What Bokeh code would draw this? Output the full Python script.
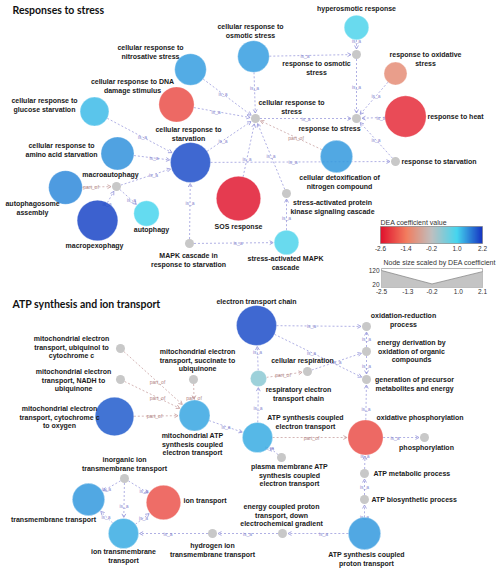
import numpy as np
from bokeh.plotting import figure
from bokeh.models import (Range1d, ColumnDataSource, ColorBar,
                          LinearColorMapper, FixedTicker, PrintfTickFormatter)
from bokeh.transform import linear_cmap
from bokeh.core.properties import value
from bokeh.embed import file_html
from bokeh.resources import INLINE

# ---------------- DATA ----------------
section_titles = ["Responses to stress", "ATP synthesis and ion transport"]

node_names = [
    "cellular response to\nnitrosative stress",
    "cellular response to DNA\ndamage stimulus",
    "cellular response to\nglucose starvation",
    "cellular response to\nosmotic stress",
    "hyperosmotic response",
    "response to osmotic\nstress",
    "response to oxidative\nstress",
    "response to stress",
    "cellular response to\nstress",
    "response to heat",
    "cellular response to\nstarvation",
    "cellular response to\namino acid starvation",
    "macroautophagy",
    "autophagosome\nassembly",
    "macropexophagy",
    "autophagy",
    "SOS response",
    "cellular detoxification of\nnitrogen compound",
    "response to starvation",
    "stress-activated protein\nkinase signaling cascade",
    "stress-activated MAPK\ncascade",
    "MAPK cascade in\nresponse to starvation",
    "mitochondrial electron\ntransport, ubiquinol to\ncytochrome c",
    "mitochondrial electron\ntransport, NADH to\nubiquinone",
    "mitochondrial electron\ntransport, cytochrome c\nto oxygen",
    "mitochondrial electron\ntransport, succinate to\nubiquinone",
    "mitochondrial ATP\nsynthesis coupled\nelectron transport",
    "electron transport chain",
    "oxidation-reduction\nprocess",
    "energy derivation by\noxidation of organic\ncompounds",
    "cellular respiration",
    "generation of precursor\nmetabolites and energy",
    "respiratory electron\ntransport chain",
    "ATP synthesis coupled\nelectron transport",
    "oxidative phosphorylation",
    "phosphorylation",
    "ATP metabolic process",
    "ATP biosynthetic process",
    "ATP synthesis coupled\nproton transport",
    "energy coupled proton\ntransport, down\nelectrochemical gradient",
    "plasma membrane ATP\nsynthesis coupled\nelectron transport",
    "hydrogen ion\ntransmembrane transport",
    "ion transmembrane\ntransport",
    "transmembrane transport",
    "ion transport",
    "inorganic ion\ntransmembrane transport",
]
# DEA coefficient (nan = not measured, grey node)
nan = float("nan")
node_coef = [
    1.40, -1.90, 1.20, 1.40, 0.90, nan, -1.10, nan, nan, -2.30,
    2.00, 1.50, nan, 1.55, 2.05, 0.95, -2.50, 1.45, nan, nan,
    0.90, nan,
    nan, nan, 1.90, nan, 1.35, 2.00, nan, nan, nan, nan,
    0.30, 1.30, -1.90, nan, nan, nan, 1.45, nan, nan, nan,
    1.30, 1.45, -1.85, nan,
]

edge_source = [
    0, 1, 2, 11, 12, 13, 14, 12, 10, 10, 21, 21, 20, 19, 16, 17, 8, 3, 3, 4, 5, 6, 9, 18,
    22, 23, 24, 25, 26, 40, 33, 32, 32, 30, 27, 27, 29, 29, 34, 33, 34, 36, 37, 38, 38,
    39, 41, 45, 45, 45, 42, 42,
]
edge_target = [
    8, 8, 10, 10, 10, 12, 12, 15, 8, 18, 10, 20, 19, 8, 8, 8, 7, 8, 5, 5, 7, 7, 7, 7,
    26, 26, 26, 26, 33, 33, 32, 27, 30, 29, 28, 31, 28, 31, 31, 34, 35, 34, 36, 37, 39,
    41, 42, 43, 44, 42, 43, 44,
]
edge_type = [
    "is_a", "is_a", "is_a", "is_a", "is_a", "part_of", "is_a", "is_a", "is_a", "is_a",
    "is_a", "is_a", "is_a", "is_a", "is_a", "part_of", "is_a", "is_a", "is_a", "is_a",
    "is_a", "is_a", "is_a", "is_a",
    "part_of", "part_of", "part_of", "part_of", "is_a", "is_a", "is_a", "is_a", "part_of",
    "is_a", "is_a", "is_a", "is_a", "is_a", "is_a", "part_of", "is_a", "is_a", "is_a",
    "is_a", "is_a", "is_a", "is_a", "is_a", "is_a", "is_a", "is_a", "is_a",
]

colorbar_ticks = [-2.6, -1.4, -0.2, 1.0, 2.2]
colorbar_colors = ["#E0112D", "#F27C5E", "#BFBFBF", "#45D6EF", "#1533C2"]
size_legend_x = [-2.5, -0.2, 2.1]
size_legend_y = [120, 25, 112]
size_ticks_x = [-2.5, -1.3, -0.2, 1.0, 2.1]
size_ticks_y = [120, 20]

# ---------------- LAYOUT (pixel positions on the page) ----------------
# node: (x, y, label_x, label_y, align)
layout = [
    (190, 69, 150, 47, "center"), (176, 104, 132, 81, "center"), (94, 111, 44, 100, "center"),
    (253, 56, 250, 26, "center"), (356, 27, 356, 8, "center"), (356, 54, 316, 63, "center"),
    (395, 73, 425, 54, "center"), (356, 118, 329, 128, "center"), (255, 118, 291, 102, "center"),
    (405, 116, 427, 116, "left"), (190, 162, 188, 129, "center"), (117, 153, 61, 145, "center"),
    (116, 186, 110, 174, "center"), (65, 187, 32, 203, "center"), (97, 220, 94, 245, "center"),
    (146, 213, 151, 229, "center"), (238, 198, 238, 226, "center"), (336, 156, 339, 177, "center"),
    (395, 161, 401, 161, "left"), (286, 193, 332, 202, "center"), (286, 242, 285, 258, "center"),
    (189, 243, 188, 255, "center"),
    (120, 348, 71, 338, "center"), (120, 379, 73, 371, "center"), (114, 416, 59, 408, "center"),
    (193, 379, 197, 351, "center"), (194, 415, 192, 435, "center"), (256, 325, 256, 301, "center"),
    (366, 326, 403, 315, "center"), (366, 351, 411, 342, "center"), (307, 371, 302, 360, "center"),
    (366, 379, 414, 379, "center"), (258, 378, 298, 389, "center"), (257, 437, 305, 417, "center"),
    (365, 437, 376, 417, "left"), (424, 437, 426, 447, "center"), (364, 473, 373, 473, "left"),
    (364, 499, 371, 499, "left"), (364, 533, 366, 554, "center"), (282, 533, 281, 506, "center"),
    (281, 457, 289, 466, "center"), (212, 533, 212, 545, "center"), (123, 533, 123, 551, "center"),
    (88, 499, 53, 519, "center"), (163, 502, 183, 500, "left"), (124, 478, 124, 459, "center"),
]
title_pos = [(12, 9), (12, 303)]
LINE_H = 8.7
PX_PER_UNIT = 0.37
GREY_R = 4.5
HEAD = 4.0

W, H = 500, 572
p = figure(width=W, height=H, output_backend="svg", toolbar_location=None,
           x_range=Range1d(0, W), y_range=Range1d(H, 0),
           min_border=0, tools="")
p.xaxis.visible = False
p.yaxis.visible = False
p.grid.visible = False
p.outline_line_color = None
p.background_fill_color = "white"

# palette from the colour stops
def hex2rgb(h):
    return np.array([int(h[i:i + 2], 16) for i in (1, 3, 5)], float)
stops = np.array([hex2rgb(c) for c in colorbar_colors])
vals = np.linspace(colorbar_ticks[0], colorbar_ticks[-1], 256)
palette = []
for v in vals:
    rgb = [np.interp(v, colorbar_ticks, stops[:, k]) for k in range(3)]
    palette.append("#%02x%02x%02x" % tuple(int(round(c)) for c in rgb))

coef = np.array(node_coef, float)
xs = np.array([l[0] for l in layout], float)
ys = np.array([l[1] for l in layout], float)
measured = ~np.isnan(coef)
radius = np.where(measured,
                  0.5 * PX_PER_UNIT * np.interp(np.nan_to_num(coef), size_legend_x, size_legend_y),
                  GREY_R)

# ---------------- edges ----------------
edge_style = {"is_a": ("#9C9CDD", "#8A8ACF"), "part_of": ("#C9A3A3", "#B08484")}
for et in ["part_of", "is_a"]:
    x0s, y0s, x1s, y1s, mx, my, hx, hy = [], [], [], [], [], [], [], []
    for s, t, ty in zip(edge_source, edge_target, edge_type):
        if ty != et:
            continue
        dx, dy = xs[t] - xs[s], ys[t] - ys[s]
        d = np.hypot(dx, dy)
        ux, uy = dx / d, dy / d
        ex, ey = xs[t] - ux * (radius[t] + 1), ys[t] - uy * (radius[t] + 1)
        x0s.append(xs[s] + ux * radius[s]); y0s.append(ys[s] + uy * radius[s])
        x1s.append(ex); y1s.append(ey)
        mx.append((xs[s] + xs[t]) / 2); my.append((ys[s] + ys[t]) / 2)
        ca, sa = np.cos(0.5), np.sin(0.5)
        lx_ = ex - HEAD * (ux * ca - uy * sa); ly_ = ey - HEAD * (uy * ca + ux * sa)
        rx_ = ex - HEAD * (ux * ca + uy * sa); ry_ = ey - HEAD * (uy * ca - ux * sa)
        hx.append([lx_, ex, rx_]); hy.append([ly_, ey, ry_])
    lc, tc = edge_style[et]
    p.segment(x0=x0s, y0=y0s, x1=x1s, y1=y1s, line_color=lc, line_width=0.8, line_dash="2 2")
    p.multi_line(xs=hx, ys=hy, line_color=lc, line_width=0.9)
    p.text(x=mx, y=my, text=[et] * len(mx), text_font=value("Liberation Sans"),
           text_font_size="5px", text_color=tc, text_align="center", text_baseline="middle")

# ---------------- nodes ----------------
cs = ColumnDataSource(dict(x=xs[measured], y=ys[measured], r=radius[measured], coef=coef[measured]))
p.circle(x="x", y="y", radius="r", source=cs,
         fill_color=linear_cmap("coef", palette, colorbar_ticks[0], colorbar_ticks[-1]),
         fill_alpha=0.85, line_color="white", line_alpha=0.6, line_width=0.5)
gs = ColumnDataSource(dict(x=xs[~measured], y=ys[~measured], r=radius[~measured]))
p.circle(x="x", y="y", radius="r", source=gs, fill_color="#C8C8C8", line_color=None)

# ---------------- labels ----------------
for align in ["center", "left"]:
    tx, ty, tt = [], [], []
    for name, l in zip(node_names, layout):
        if l[4] != align:
            continue
        for i, line in enumerate(name.split("\n")):
            tx.append(l[2]); ty.append(l[3] + i * LINE_H); tt.append(line)
    p.text(x=tx, y=ty, text=tt, text_font=value("Liberation Sans"), text_font_style="bold",
           text_font_size="7px", text_color="#1a1a1a", text_align=align, text_baseline="middle")

p.text(x=[t[0] for t in title_pos], y=[t[1] for t in title_pos], text=section_titles,
       text_font=value("Lato"), text_font_style="bold", text_font_size="10.5px",
       text_color="#111111", text_align="left", text_baseline="middle")

# ---------------- colour legend ----------------
mapper = LinearColorMapper(palette=palette, low=colorbar_ticks[0], high=colorbar_ticks[-1])
cb = ColorBar(color_mapper=mapper, orientation="horizontal", width=102, height=17,
              location=(380, 319), padding=0, ticker=FixedTicker(ticks=colorbar_ticks),
              formatter=PrintfTickFormatter(format="%.1f"),
              title="DEA coefficient value", title_text_font_size="7px",
              title_text_font_style="normal", title_text_font="Liberation Sans",
              title_text_color="#333333", title_standoff=2,
              major_label_text_font_size="6.5px", major_label_text_font="Liberation Sans",
              major_label_text_color="#333333", label_standoff=2,
              major_tick_line_color=None, minor_tick_line_color=None,
              bar_line_color="#777777", bar_line_width=0.6,
              background_fill_alpha=0, border_line_color=None)
p.add_layout(cb, "center")

# ---------------- size legend ----------------
lx0, lx1 = 381.0, 482.0           # pixel span of -2.5 .. 2.1
sx = (size_legend_x[-1] - size_legend_x[0]) / (lx1 - lx0)
p.extra_x_ranges = {"lx": Range1d(size_legend_x[0] - lx0 * sx,
                                  size_legend_x[-1] + (W - lx1) * sx)}
py0, py120 = 287.0, 270.0          # pixel of value 0 and 120
sy = 120.0 / (py0 - py120)
p.extra_y_ranges = {"ly": Range1d(0 - (H - py0) * sy, 120 + py120 * sy)}

p.quad(left=[size_legend_x[0]], right=[size_legend_x[-1]], top=[268], bottom=[287],
       x_range_name="lx", fill_color="white", line_color="#9a9a9a", line_width=0.7)
p.varea(x=size_legend_x, y1=[0] * 3, y2=size_legend_y, x_range_name="lx", y_range_name="ly",
        fill_color="#C4C4C4")
p.line(x=size_legend_x, y=size_legend_y, x_range_name="lx", y_range_name="ly",
       line_color="#8a8a8a", line_width=0.8)
p.text(x=size_ticks_x, y=[291] * len(size_ticks_x), text=["%.1f" % v for v in size_ticks_x],
       x_range_name="lx", text_font=value("Liberation Sans"), text_font_size="6.5px",
       text_color="#333333", text_align="center", text_baseline="middle")
p.text(x=[379, 379], y=size_ticks_y, text=[str(v) for v in size_ticks_y], y_range_name="ly",
       text_font=value("Liberation Sans"), text_font_size="6.5px", text_color="#333333",
       text_align="right", text_baseline="middle")
p.text(x=[383], y=[262], text=["Node size scaled by DEA coefficient"],
       text_font=value("Liberation Sans"), text_font_size="7px", text_color="#333333",
       text_align="left", text_baseline="middle")

open("out.html", "w").write(file_html(p, INLINE))
